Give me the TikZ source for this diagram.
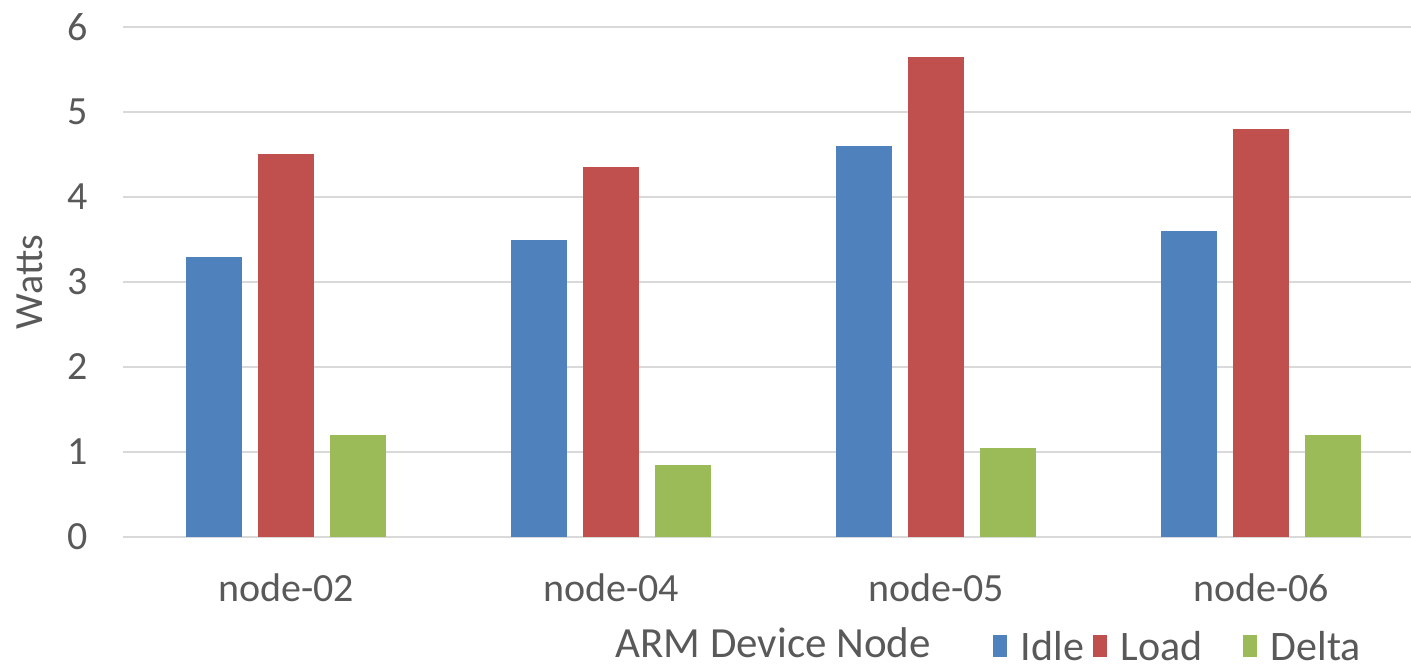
\documentclass[tikz,border=0pt]{standalone}
\usepackage{fontspec}
\setmainfont{Carlito}
\usetikzlibrary{positioning}

\definecolor{idlecol}{HTML}{4F81BD}
\definecolor{loadcol}{HTML}{C0504D}
\definecolor{deltacol}{HTML}{9BBB59}
\definecolor{txtcol}{HTML}{595959}
\definecolor{gridcol}{HTML}{D9D9D9}

\begin{document}
\begin{tikzpicture}[
  x=0.5pt, y=-0.5pt,
  font=\fontsize{20}{24}\selectfont, text=txtcol,
  grid/.style={draw=gridcol, line width=1.3pt},
  tick/.style={anchor=east, inner sep=0pt},
  cat/.style={font=\fontsize{20}{24}\selectfont, inner sep=0pt},
  idle/.style={fill=idlecol},
  load/.style={fill=loadcol},
  delta/.style={fill=deltacol},
  swatch/.style={minimum width=7pt, minimum height=11pt, inner sep=0pt},
  lab/.style={font=\fontsize{21}{25}\selectfont, inner sep=0pt, anchor=west}
]
\useasboundingbox (0,0) rectangle (1411,668);

% gridlines and y ticks
\draw[grid] (123,537) -- (1411,537);
\draw[grid] (123,452) -- (1411,452);
\draw[grid] (123,367) -- (1411,367);
\draw[grid] (123,282) -- (1411,282);
\draw[grid] (123,197) -- (1411,197);
\draw[grid] (123,112) -- (1411,112);
\draw[grid] (123,27) -- (1411,27);
\node[tick] (t0) at (88,537) {0};
\node[tick] (t1) at (88,452) {1};
\node[tick] (t2) at (88,367) {2};
\node[tick] (t3) at (88,282) {3};
\node[tick] (t4) at (88,197) {4};
\node[tick] (t5) at (88,112) {5};
\node[tick] (t6) at (88,27) {6};

% bars
\fill[idle] (186,537) rectangle (242,256.5);
\fill[load] (258,537) rectangle (314,154.5);
\fill[delta] (330,537) rectangle (386,435);
\fill[idle] (511,537) rectangle (567,239.5);
\fill[load] (583,537) rectangle (639,167.25);
\fill[delta] (655,537) rectangle (711,464.75);
\fill[idle] (836,537) rectangle (892,146);
\fill[load] (908,537) rectangle (964,56.75);
\fill[delta] (980,537) rectangle (1036,447.75);
\fill[idle] (1161,537) rectangle (1217,231);
\fill[load] (1233,537) rectangle (1289,129);
\fill[delta] (1305,537) rectangle (1361,435);

% category labels
\node[cat] (n02) at (286,588) {node-02};
\node[cat] (n04) at (611,588) {node-04};
\node[cat] (n05) at (936,588) {node-05};
\node[cat] (n06) at (1261,588) {node-06};

% axis titles
\node[cat, rotate=90] (watts) at (30,282) {Watts};
\node[cat, font=\fontsize{21.5}{25}\selectfont] (xtitle) at (773,643) {ARM Device Node};

% legend
\node[swatch, idle] (sidle) at (1000,646) {};
\node[lab, right=6.5pt of sidle] (lidle) {Idle};
\node[swatch, load] (sload) at (1100,646) {};
\node[lab, right=6.5pt of sload] (lload) {Load};
\node[swatch, delta] (sdelta) at (1250,646) {};
\node[lab, right=6.5pt of sdelta] (ldelta) {Delta};
\end{tikzpicture}
\end{document}
